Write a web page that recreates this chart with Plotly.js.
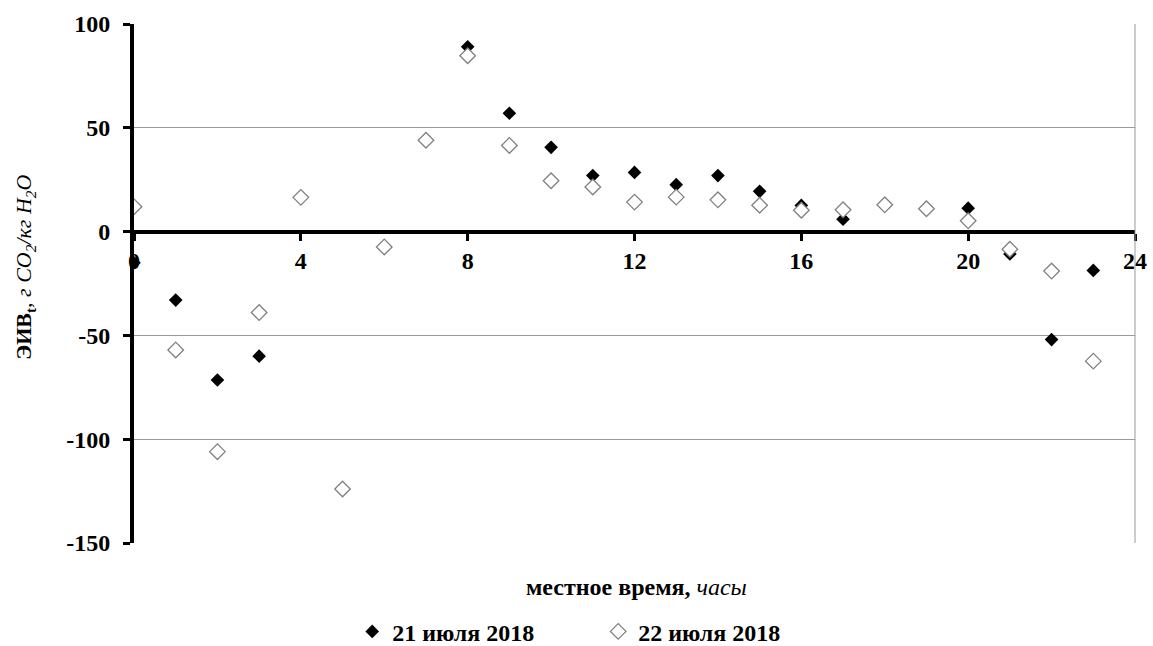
<!DOCTYPE html>
<html>
<head>
<meta charset="utf-8">
<script src="https://cdn.plot.ly/plotly-3.0.1.min.js"></script>
<style>html,body{margin:0;padding:0;background:#fff;}#chart{width:1153px;height:646px;}</style>
</head>
<body>
<div id="chart"></div>
<script>
const hours = [0,1,2,3,4,5,6,7,8,9,10,11,12,13,14,15,16,17,18,19,20,21,22,23];
const july21 = [-15,-33,-71.5,-60,null,null,null,null,89,57,40.6,27,28.5,22.6,27,19.4,12.6,6,null,null,11.3,-10.8,-52,-18.7];
const july22 = [12,-57,-106,-39,16.5,-124,-7.4,44,84.7,41.5,24.5,21.5,14.2,16.6,15.3,12.7,10.3,10.5,12.9,11,5.2,-8.5,-19,-62.4];
const xTicks = [0,4,8,12,16,20,24];
const yTicks = [-150,-100,-50,0,50,100];
const seriesNames = ["21 июля 2018","22 июля 2018"];

const serif = "Liberation Serif, Times New Roman, serif";

const traces = [
  {x: hours, y: july21, name: seriesNames[0], type: 'scatter', mode: 'markers',
   marker: {symbol: 'diamond', size: 10.5, color: '#000', line: {width: 0}}},
  {x: hours, y: july22, name: seriesNames[1], type: 'scatter', mode: 'markers',
   marker: {symbol: 'diamond', size: 12, color: '#fff', line: {width: 1.3, color: '#808080'}}}
];

const layout = {
  width: 1153, height: 646,
  margin: {l: 134, r: 18, t: 24, b: 103},
  paper_bgcolor: '#fff', plot_bgcolor: '#fff',
  font: {family: serif, color: '#000', size: 24},
  showlegend: true,
  legend: {orientation: 'h', xref: 'paper', x: 0.218, xanchor: 'left',
           yref: 'container', y: 0.022, yanchor: 'middle',
           font: {family: serif, size: 24, weight: 'bold'}, entrywidth: 201, itemwidth: 30},
  xaxis: {range: [0, 24], tickvals: xTicks, ticktext: xTicks.map(String),
          anchor: 'free', position: 0.6, showgrid: false, zeroline: false,
          showline: true, linecolor: '#000', linewidth: 4,
          ticks: 'outside', ticklen: 7, tickwidth: 3, tickcolor: '#000',
          tickfont: {family: serif, size: 24, weight: 'bold'},
          title: {text: ''}},
  yaxis: {range: [-150, 100], tickvals: yTicks, ticktext: yTicks.map(String),
          showgrid: true, gridcolor: '#9a9a9a', gridwidth: 1, zeroline: false,
          showline: true, linecolor: '#000', linewidth: 4,
          ticks: 'outside', ticklen: 7, tickwidth: 3, tickcolor: '#000',
          ticklabelstandoff: 8,
          tickfont: {family: serif, size: 24, weight: 'bold'},
          title: {text: ''}},
  shapes: [
    {type: 'line', xref: 'paper', yref: 'paper', x0: 1, x1: 1, y0: 0, y1: 1,
     line: {color: '#9a9a9a', width: 1}}
  ],
  annotations: [
    {xref: 'paper', yref: 'paper', x: 0.502, y: -0.085, xanchor: 'center', yanchor: 'middle',
     showarrow: false, text: '<b>местное время,</b> <i>часы</i>',
     font: {family: serif, size: 24}},
    {xref: 'paper', yref: 'paper', x: -0.109, y: 0.532, xanchor: 'center', yanchor: 'middle',
     textangle: -90, showarrow: false,
     text: '<b>ЭИВ<sub>t</sub></b>, <i>г CO<sub>2</sub>/кг H<sub>2</sub>O</i>',
     font: {family: serif, size: 22}}
  ]
};

Plotly.newPlot('chart', traces, layout, {displayModeBar: false, staticPlot: true});
</script>
</body>
</html>
